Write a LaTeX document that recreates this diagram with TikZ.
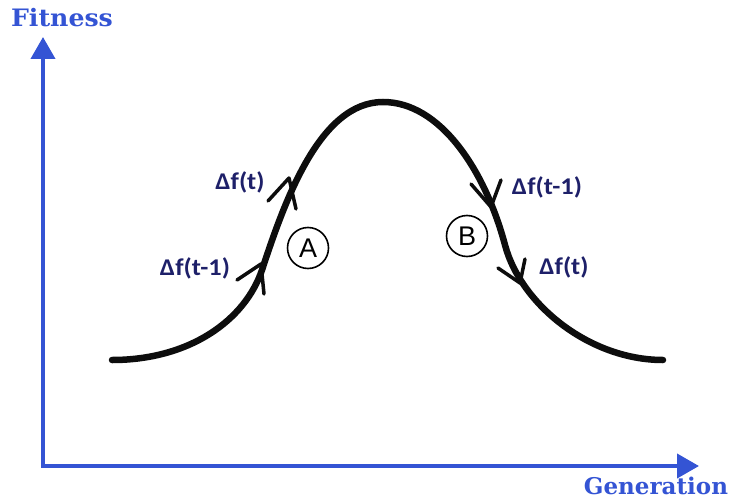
\documentclass[tikz,border=0pt]{standalone}
\usepackage{fontspec}
\setmainfont{DejaVu Serif}
\newfontfamily\lblfont{Carlito}
\newfontfamily\circfont{Liberation Sans}
\usetikzlibrary{arrows.meta}
\definecolor{axisblue}{RGB}{52,84,212}
\definecolor{navy}{RGB}{30,32,105}
\tikzset{
  axisline/.style={draw=axisblue,line width=4pt,-{Triangle[length=22pt,width=24pt]}},
  axislabel/.style={text=axisblue,inner sep=0pt,anchor=base,font=\fontsize{24}{28}\selectfont\bfseries},
  curveline/.style={draw=black!95,line width=6.5pt,line cap=round},
  barb/.style={draw=black!95,line width=3.5pt,line cap=round},
  dlabel/.style={text=navy,xscale=1.1,font=\lblfont\fontsize{24}{28}\selectfont\bfseries},
  circlabel/.style={circle,draw,line width=1.6pt,minimum size=41pt,inner sep=0pt,font=\circfont\fontsize{27}{29}\selectfont}
}
\begin{document}
\begin{tikzpicture}[x=1pt,y=-1pt]
\useasboundingbox (0,0) rectangle (735,500);
% axes
\coordinate (O) at (43,466);
\coordinate (ytop) at (43,37);
\coordinate (xend) at (699,466);
\draw[axisline] (O) -- (ytop);
\draw[axisline] ([xshift=-2pt]O) -- (xend);
\node[axislabel,xscale=1.05] (fit) at (62,27) {Fitness};
\node[axislabel,font=\fontsize{23}{27}\selectfont\bfseries] (gen) at (656,494) {Generation};
% curve
\coordinate (c0) at (112,360);
\coordinate (c1) at (262,270);
\coordinate (c2) at (383,102);
\coordinate (c3) at (505,245);
\coordinate (c4) at (663,360);
\draw[curveline] (c0) .. controls (190,360) and (245,320) .. (c1)
  .. controls (285,200) and (320,102) .. (c2)
  .. controls (440,102) and (485,170) .. (c3)
  .. controls (521,305) and (590,360) .. (c4);
% arrow barbs A
\coordinate (a1) at (261,264);
\draw[barb] (a1) -- (237,280);
\draw[barb] (a1) -- (264,294);
\coordinate (a2) at (289,178);
\draw[barb] (a2) -- (268,201);
\draw[barb] (a2) -- (296,209);
% arrow barbs B
\coordinate (b1) at (491,207);
\draw[barb] (b1) -- (471,184);
\draw[barb] (b1) -- (501,180);
\coordinate (b2) at (520,283);
\draw[barb] (b2) -- (498,268);
\draw[barb] (b2) -- (525,259);
% circles
\node[circlabel] (A) at (308,248) {A};
\node[circlabel] (B) at (467,236) {B};
% labels
\node[dlabel] (l1) at (240,182) {Δf(t)};
\node[dlabel] (l2) at (195,268) {Δf(t-1)};
\node[dlabel] (l3) at (547,187) {Δf(t-1)};
\node[dlabel] (l4) at (564,267) {Δf(t)};
\end{tikzpicture}
\end{document}
